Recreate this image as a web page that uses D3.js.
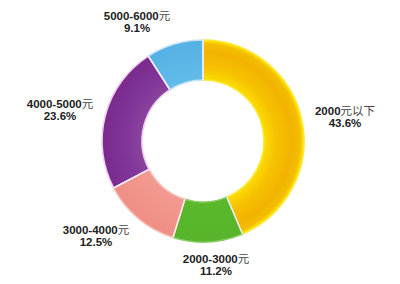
<!DOCTYPE html>
<html>
<head>
<meta charset="utf-8">
<script src="https://cdn.jsdelivr.net/npm/d3@7/dist/d3.min.js"></script>
<style>
  html, body { margin: 0; padding: 0; background: #fff; }
  svg { display: block; }
</style>
</head>
<body>
<svg id="chart" width="400" height="284"></svg>
<script>
// Income bands and their shares (%)
const bands = ["2000元以下", "2000-3000元", "3000-4000元", "4000-5000元", "5000-6000元"];
const shares = [43.6, 11.2, 12.5, 23.6, 9.1];
const shareLabels = ["43.6%", "11.2%", "12.5%", "23.6%", "9.1%"];
// label anchor points (centre of the two-line label, first baseline)
const labelX = [345, 216, 96, 60, 137];
const labelY = [115, 263, 234, 108, 20];

const W = 400, H = 284;
const cx = 203, cy = 141, outerR = 101, innerR = 61;

const svg = d3.select("#chart");
const defs = svg.append("defs");

// radial gradients across the ring width (0 = inner edge, 1 = outer edge)
const gradSpec = [
  { id: "g0", stops: [[0, "#fcdc00"], [0.3, "#f6c200"], [0.7, "#f2b300"], [0.9, "#f4bd00"], [1, "#fde800"]] },
  { id: "g1", stops: [[0, "#5ab82c"], [1, "#58b52b"]] },
  { id: "g2", stops: [[0, "#f29a91"], [1, "#ef8e86"]] },
  { id: "g3", stops: [[0, "#8a449c"], [0.4, "#81369a"], [1, "#7a2a8c"]] },
  { id: "g4", stops: [[0, "#62bbe8"], [1, "#55b1e4"]] }
];
const t0 = innerR / outerR;
gradSpec.forEach(g => {
  const rg = defs.append("radialGradient")
    .attr("id", g.id)
    .attr("gradientUnits", "userSpaceOnUse")
    .attr("cx", 0).attr("cy", 0).attr("r", outerR);
  g.stops.forEach(s => {
    rg.append("stop")
      .attr("offset", t0 + s[0] * (1 - t0))
      .attr("stop-color", s[1]);
  });
});

const strokes = ["#fbe93a", "#8ccc66", "#f6c0b4", "#ecd0ef", "#c2e4f6"];

const pie = d3.pie().sort(null).value(d => d)(shares);
const arc = d3.arc().innerRadius(innerR).outerRadius(outerR);

const g = svg.append("g").attr("transform", `translate(${cx},${cy})`);

g.selectAll("path.seg")
  .data(pie)
  .join("path")
  .attr("class", "seg")
  .attr("d", arc)
  .attr("fill", (d, i) => `url(#g${i})`)
  .attr("stroke", (d, i) => strokes[i])
  .attr("stroke-width", 1.6)
  .attr("stroke-linejoin", "round");

// thin light seams between segments
g.selectAll("line.seam")
  .data(pie)
  .join("line")
  .attr("class", "seam")
  .attr("x1", d => innerR * Math.sin(d.startAngle))
  .attr("y1", d => -innerR * Math.cos(d.startAngle))
  .attr("x2", d => outerR * Math.sin(d.startAngle))
  .attr("y2", d => -outerR * Math.cos(d.startAngle))
  .attr("stroke", "#f6eef6")
  .attr("stroke-width", 1.4);

// labels
const labels = svg.append("g")
  .attr("font-family", "'Liberation Sans', Arial, 'Noto Sans CJK SC', sans-serif")
  .attr("font-size", 11.5)
  .attr("text-anchor", "middle");

bands.forEach((name, i) => {
  const t = labels.append("text")
    .attr("x", labelX[i]).attr("y", labelY[i])
    .attr("fill", "#222");
  // numeric part bold, Chinese part regular
  const parts = name.match(/[0-9\-]+|[^0-9\-]+/g);
  parts.forEach(p => {
    const isNum = /^[0-9\-]+$/.test(p);
    t.append("tspan")
      .attr("font-weight", isNum ? "bold" : "normal")
      .attr("font-family", isNum ? null : "'Noto Sans CJK SC', sans-serif")
      .attr("fill", isNum ? "#222" : "#444")
      .text(p);
  });
  labels.append("text")
    .attr("x", labelX[i]).attr("y", labelY[i] + 12)
    .attr("font-weight", "bold")
    .attr("fill", "#222")
    .text(shareLabels[i]);
});
</script>
</body>
</html>
